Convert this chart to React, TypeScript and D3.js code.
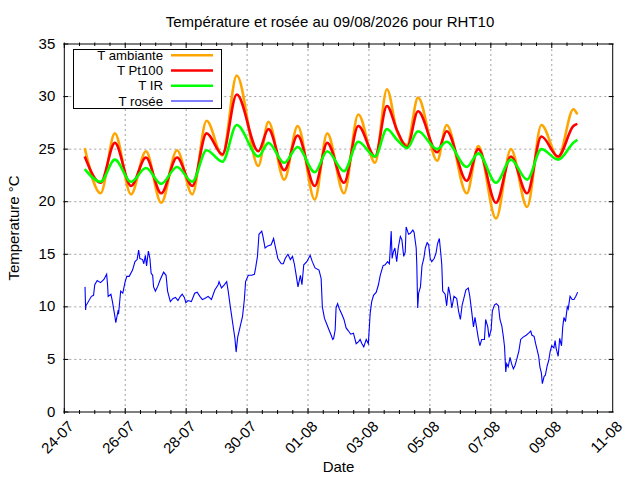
import React, { useEffect, useRef } from 'react';
import * as d3 from 'd3';

// days since 24-07 00:00
const temperatureDays = [0.67, 1.19, 1.66, 2.19, 2.68, 3.18, 3.70, 4.20, 4.67, 5.19, 5.66, 6.37, 6.70, 7.22, 7.66, 8.22, 8.63, 9.18, 9.65, 10.20, 10.59, 10.92, 11.25, 11.61, 12.24, 12.55, 13.21, 13.59, 14.17, 14.66, 15.19, 15.66, 16.21, 16.71, 16.84];
const ambianteValues = [25.1, 20.8, 26.5, 20.7, 24.8, 19.9, 24.9, 20.7, 27.7, 24.4, 32.0, 23.4, 27.6, 22.1, 27.2, 20.2, 26.5, 20.8, 28.3, 23.7, 30.7, 26.7, 25.4, 29.9, 23.9, 27.3, 20.8, 25.3, 18.4, 25.0, 19.5, 27.3, 24.2, 28.8, 28.3];
const pt100Values = [24.3, 21.8, 25.6, 21.5, 24.2, 20.8, 24.2, 21.5, 26.5, 24.5, 30.2, 24.8, 26.9, 23.0, 26.3, 21.5, 25.6, 21.8, 27.2, 24.3, 29.1, 26.8, 25.2, 28.6, 24.7, 26.7, 22.0, 25.0, 19.9, 24.3, 20.8, 26.2, 24.3, 27.2, 27.4];
const irValues = [23.1, 21.9, 24.0, 21.9, 23.2, 21.7, 23.3, 21.9, 24.9, 23.8, 27.3, 24.3, 25.6, 23.7, 25.2, 22.8, 24.8, 22.9, 25.7, 24.3, 26.9, 25.9, 25.1, 26.7, 25.0, 25.7, 23.3, 24.6, 21.8, 24.0, 22.1, 25.0, 24.0, 25.6, 25.9];

const roseeDays = [
  0.68, 0.70, 0.71, 0.89, 0.96, 1.00, 1.08, 1.19, 1.30, 1.39, 1.42, 1.44, 1.53, 1.58, 1.66, 1.69, 1.77, 1.78, 1.85, 1.92,
  1.99, 2.05, 2.13, 2.24, 2.32, 2.39, 2.44, 2.48, 2.57, 2.61, 2.66, 2.70, 2.76, 2.81, 2.85, 2.90, 2.93, 2.99, 3.06, 3.15,
  3.26, 3.34, 3.39, 3.48, 3.57, 3.65, 3.73, 3.81, 3.87, 3.94, 3.99, 4.06, 4.17, 4.28, 4.36, 4.45, 4.53, 4.61, 4.72, 4.83,
  4.94, 5.05, 5.08, 5.16, 5.25, 5.33, 5.38, 5.45, 5.51, 5.56, 5.60, 5.64, 5.69, 5.77, 5.85, 5.91, 5.95, 6.04, 6.15, 6.24,
  6.28, 6.34, 6.39, 6.48, 6.52, 6.59, 6.68, 6.79, 6.87, 6.92, 7.01, 7.12, 7.19, 7.25, 7.34, 7.42, 7.49, 7.55, 7.60, 7.67,
  7.75, 7.80, 7.86, 7.96, 8.07, 8.14, 8.23, 8.36, 8.43, 8.47, 8.54, 8.61, 8.69, 8.76, 8.81, 8.84, 8.89, 8.92, 8.97, 9.03,
  9.11, 9.18, 9.25, 9.33, 9.40, 9.49, 9.58, 9.66, 9.71, 9.77, 9.83, 9.91, 9.98, 10.04, 10.09, 10.15, 10.24, 10.31, 10.37, 10.46,
  10.53, 10.61, 10.67, 10.70, 10.73, 10.76, 10.80, 10.85, 10.91, 10.96, 11.03, 11.08, 11.14, 11.19, 11.22, 11.30, 11.36, 11.44, 11.48, 11.55,
  11.57, 11.60, 11.63, 11.69, 11.74, 11.80, 11.85, 11.91, 11.96, 12.01, 12.06, 12.14, 12.20, 12.25, 12.31, 12.36, 12.39, 12.42, 12.50, 12.55,
  12.61, 12.66, 12.72, 12.79, 12.88, 12.94, 13.00, 13.06, 13.13, 13.18, 13.26, 13.31, 13.37, 13.43, 13.48, 13.54, 13.59, 13.64, 13.70, 13.79,
  13.83, 13.90, 13.94, 14.01, 14.05, 14.12, 14.18, 14.25, 14.30, 14.36, 14.41, 14.45, 14.49, 14.52, 14.57, 14.63, 14.68, 14.74, 14.79, 14.85,
  14.92, 14.98, 15.05, 15.16, 15.24, 15.31, 15.35, 15.42, 15.47, 15.52, 15.57, 15.61, 15.66, 15.69, 15.75, 15.79, 15.85, 15.90, 15.95, 16.00,
  16.07, 16.11, 16.14, 16.21, 16.26, 16.32, 16.36, 16.40, 16.45, 16.51, 16.54, 16.60, 16.67, 16.73, 16.79, 16.85,
];
const roseeValues = [
  11.9, 9.7, 10.1, 11.0, 11.1, 12.1, 12.5, 12.3, 12.6, 13.1, 12.1, 11.0, 11.2, 10.5, 9.1, 8.5, 9.7, 9.3, 11.5, 11.3,
  12.3, 12.9, 12.9, 13.5, 14.3, 14.5, 15.4, 14.6, 14.5, 14.1, 14.9, 13.9, 15.3, 14.6, 13.2, 13.0, 11.9, 11.5, 11.9, 12.6,
  13.3, 13.0, 11.5, 10.5, 10.8, 10.9, 10.6, 11.0, 11.2, 10.9, 10.4, 10.6, 10.5, 11.3, 11.4, 11.0, 10.7, 10.8, 11.0, 10.7,
  11.6, 12.1, 12.4, 11.8, 12.1, 12.4, 11.5, 10.0, 8.8, 7.8, 7.0, 5.7, 7.1, 8.1, 9.1, 10.7, 12.4, 13.0, 13.0, 13.1,
  13.7, 14.8, 16.9, 17.2, 16.7, 15.6, 15.8, 15.9, 16.5, 15.8, 14.6, 14.1, 14.1, 14.6, 15.0, 14.5, 14.8, 14.1, 13.2, 11.9,
  13.0, 12.1, 14.0, 14.3, 14.9, 14.3, 13.7, 13.5, 12.7, 10.0, 8.9, 8.4, 7.8, 7.3, 6.9, 7.0, 7.8, 9.9, 10.3, 9.8,
  9.3, 8.8, 8.0, 7.7, 7.4, 7.5, 6.5, 6.7, 6.9, 6.5, 6.2, 6.9, 6.5, 9.4, 10.5, 11.1, 11.4, 12.1, 13.0, 13.9,
  14.0, 14.3, 14.1, 15.6, 17.2, 14.6, 15.2, 15.6, 14.3, 15.6, 16.7, 16.4, 14.8, 15.2, 17.6, 16.9, 17.0, 17.3, 17.1, 15.6,
  14.0, 9.9, 11.3, 11.9, 13.9, 14.6, 15.6, 16.1, 15.9, 14.6, 14.3, 14.6, 15.1, 16.0, 16.5, 15.0, 14.0, 11.5, 11.2, 10.1,
  11.9, 11.2, 9.9, 11.0, 10.8, 9.6, 8.8, 10.2, 11.0, 11.6, 11.8, 11.0, 9.6, 8.1, 9.0, 7.9, 7.0, 6.3, 6.9, 6.9,
  8.8, 8.1, 7.1, 7.8, 9.6, 10.2, 10.3, 10.1, 8.8, 8.2, 7.2, 6.2, 3.8, 4.6, 4.3, 5.2, 4.6, 4.1, 4.4, 5.0,
  5.8, 6.9, 7.1, 7.3, 7.5, 7.7, 7.3, 7.2, 6.5, 5.9, 5.3, 4.3, 3.7, 2.7, 3.4, 3.5, 4.4, 4.9, 5.8, 6.3,
  6.1, 6.8, 6.1, 5.3, 7.0, 6.3, 8.1, 9.0, 8.6, 10.0, 9.8, 11.0, 10.7, 10.7, 11.0, 11.4,
];

const xTickLabels = ['24-07', '26-07', '28-07', '30-07', '01-08', '03-08', '05-08', '07-08', '09-08', '11-08'];
const yTicks = [0, 5, 10, 15, 20, 25, 30, 35];
const seriesNames = ['T ambiante', 'T Pt100', 'T IR', 'T rosée'];
const colors = ['#ffa500', '#ff0000', '#00ff00', '#0000ff'];

const FONT = "'Liberation Sans', Arial, sans-serif";

const App: React.FC = () => {
  const svgRef = useRef<SVGSVGElement>(null);

  useEffect(() => {
    if (!svgRef.current) return;
    const svg = d3.select(svgRef.current);
    svg.selectAll('*').remove();

    const left = 64.3, right = 612.7, top = 44, bottom = 412;
    const start = new Date(2026, 6, 24);
    const toDate = (d: number) => new Date(start.getTime() + d * 86400000);
    const parseTick = d3.timeParse('%d-%m-%Y');
    const xTicks = xTickLabels.map(l => parseTick(`${l}-2026`) as Date);

    const x = d3.scaleTime()
      .domain([start, new Date(2026, 7, 11)])
      .range([left, right]);
    const y = d3.scaleLinear().domain([0, 35]).range([bottom, top]);

    svg.append('rect').attr('width', 640).attr('height', 480).attr('fill', '#fff');

    // grid
    svg.selectAll('.gx')
      .data(xTicks.slice(1, -1))
      .enter().append('line')
      .attr('x1', d => x(d)).attr('x2', d => x(d))
      .attr('y1', top).attr('y2', bottom)
      .attr('stroke', '#a0a0a0').attr('stroke-dasharray', '2,3');
    svg.selectAll('.gy')
      .data(yTicks.slice(1, -1))
      .enter().append('line')
      .attr('x1', left).attr('x2', right)
      .attr('y1', d => y(d)).attr('y2', d => y(d))
      .attr('stroke', '#a0a0a0').attr('stroke-dasharray', '2,3');

    // ticks
    const minorTicks = d3.timeHour.every(12)!.range(start, new Date(2026, 7, 11));
    const tickG = svg.append('g').attr('stroke', '#000').attr('stroke-width', 1);
    minorTicks.forEach(t => {
      const major = xTicks.some(m => m.getTime() === t.getTime());
      const len = major ? 4 : 2;
      tickG.append('line').attr('x1', x(t)).attr('x2', x(t)).attr('y1', bottom + 2).attr('y2', bottom - len);
      tickG.append('line').attr('x1', x(t)).attr('x2', x(t)).attr('y1', top - 1.5).attr('y2', top + len);
    });
    yTicks.forEach(v => {
      tickG.append('line').attr('x1', left - 1).attr('x2', left + 4).attr('y1', y(v)).attr('y2', y(v));
      tickG.append('line').attr('x1', right - 4).attr('x2', right + 1).attr('y1', y(v)).attr('y2', y(v));
    });

    // tick labels
    svg.selectAll('.yl')
      .data(yTicks)
      .enter().append('text')
      .attr('x', left - 9)
      .attr('y', d => y(d))
      .attr('dy', '0.3em')
      .attr('text-anchor', 'end')
      .attr('font-family', FONT)
      .attr('font-size', 15)
      .text(d => d);
    svg.selectAll('.xl')
      .data(xTicks)
      .enter().append('text')
      .attr('transform', d => `translate(${x(d) + 3},${bottom + 8}) rotate(-45)`)
      .attr('dy', '0.7em')
      .attr('text-anchor', 'end')
      .attr('font-family', FONT)
      .attr('font-size', 15)
      .text((d, i) => xTickLabels[i]);

    // series
    const line = d3.line<[Date, number]>()
      .x(d => x(d[0]))
      .y(d => y(d[1]))
      .curve(d3.curveMonotoneX);
    [ambianteValues, pt100Values, irValues].forEach((values, i) => {
      const pts = values.map((v, j) => [toDate(temperatureDays[j]), v] as [Date, number]);
      svg.append('path')
        .datum(pts)
        .attr('fill', 'none')
        .attr('stroke', colors[i])
        .attr('stroke-width', 2.6)
        .attr('stroke-linejoin', 'round')
        .attr('d', line);
    });
    const dew = roseeValues.map((v, j) => [toDate(roseeDays[j]), v] as [Date, number]);
    svg.append('path')
      .datum(dew)
      .attr('fill', 'none')
      .attr('stroke', colors[3])
      .attr('stroke-width', 1.1)
      .attr('d', line.curve(d3.curveLinear));

    // frame
    svg.append('rect')
      .attr('x', left).attr('y', top)
      .attr('width', right - left).attr('height', bottom - top)
      .attr('fill', 'none').attr('stroke', '#000');

    // legend
    const legend = svg.append('g');
    legend.append('rect')
      .attr('x', 73.5).attr('y', 49.5).attr('width', 148).attr('height', 59)
      .attr('fill', '#fff').attr('stroke', '#000');
    seriesNames.forEach((name, i) => {
      const ly = 55.2 + i * 15.25;
      legend.append('text')
        .attr('x', 163).attr('y', ly).attr('dy', '0.35em')
        .attr('text-anchor', 'end')
        .attr('font-family', FONT).attr('font-size', 13.2)
        .text(name);
      legend.append('line')
        .attr('x1', 171).attr('x2', 213).attr('y1', ly).attr('y2', ly)
        .attr('stroke', colors[i]).attr('stroke-width', i === 3 ? 1.1 : 2.6);
    });

    // titles
    svg.append('text')
      .attr('x', 330).attr('y', 27)
      .attr('text-anchor', 'middle')
      .attr('font-family', FONT).attr('font-size', 15)
      .text('Température et rosée au 09/08/2026 pour RHT10');
    svg.append('text')
      .attr('x', (left + right) / 2).attr('y', 472)
      .attr('text-anchor', 'middle')
      .attr('font-family', FONT).attr('font-size', 15)
      .text('Date');
    svg.append('text')
      .attr('transform', `translate(14,${(top + bottom) / 2}) rotate(-90)`)
      .attr('dy', '0.35em')
      .attr('text-anchor', 'middle')
      .attr('font-family', FONT).attr('font-size', 15)
      .text('Temperature °C');
  }, []);

  return (
    <svg
      ref={svgRef}
      width={640}
      height={480}
      style={{ position: 'absolute', left: 0, top: 0 }}
    />
  );
};

export default App;
